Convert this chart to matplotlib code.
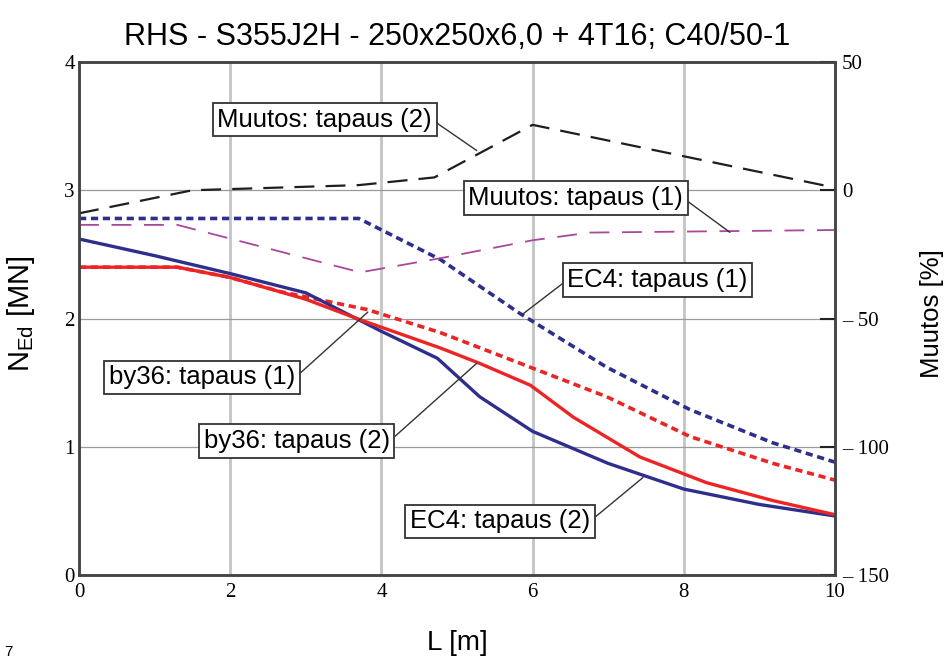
import numpy as np
import matplotlib
matplotlib.use("Agg")
import matplotlib.pyplot as plt

plt.rcParams['font.family'] = ['Liberation Sans', 'DejaVu Sans']
plt.rcParams['mathtext.default'] = 'regular'

title = "RHS - S355J2H - 250x250x6,0 + 4T16; C40/50-1"

# EC4: tapaus (2)  -- solid blue
L_ec4_2 = [0, 1, 2, 3, 4, 4.74, 5.3, 6, 7, 8, 9, 10]
N_ec4_2 = [2.62, 2.49, 2.35, 2.20, 1.90, 1.69, 1.39, 1.12, 0.87, 0.67, 0.55, 0.46]

# by36: tapaus (2)  -- solid red
L_by36_2 = [0, 1.3, 2, 3, 3.72, 4.78, 5.3, 5.97, 6.54, 7.42, 8.3, 9.18, 10]
N_by36_2 = [2.40, 2.40, 2.32, 2.15, 1.99, 1.77, 1.65, 1.48, 1.23, 0.92, 0.72, 0.58, 0.47]

# by36: tapaus (1)  -- dashed red
L_by36_1 = [0, 1.3, 2, 2.66, 3.81, 4.78, 5.97, 6.98, 8.08, 9.18, 10]
N_by36_1 = [2.40, 2.40, 2.32, 2.21, 2.07, 1.89, 1.62, 1.39, 1.08, 0.87, 0.74]

# EC4: tapaus (1)  -- dotted blue
L_ec4_1 = [0, 3.7, 4.78, 5.83, 6.98, 8.08, 9.18, 10]
N_ec4_1 = [2.78, 2.78, 2.46, 2.04, 1.62, 1.29, 1.03, 0.88]

# Muutos [%]
L_muu_1 = [0, 1.3, 3.72, 4.78, 6.0, 6.76, 10]
P_muu_1 = [-13.5, -13.5, -32, -26.5, -19.5, -16.5, -15.5]
L_muu_2 = [0, 1.5, 3.7, 4.7, 6, 10]
P_muu_2 = [-9, 0, 2, 5, 25.5, 1]

x_ticks = [0, 2, 4, 6, 8, 10]
y_ticks = [0, 1, 2, 3, 4]
p_ticks = [50, 0, -50, -100, -150]
p_labels = ['50', '0', '– 50', '– 100', '– 150']

blue = '#2e2f8c'
red = '#ec2424'
purple = '#a8489e'

fig = plt.figure(figsize=(9.47, 6.61), dpi=100)
ax = fig.add_axes([79/947, 1-575/661, 756/947, 513/661])
ax2 = ax.twinx()

ax.set_xlim(0, 10)
ax.set_ylim(0, 4)
ax2.set_ylim(-150, 50)

for xv in [2, 4, 6, 8]:
    ax.axvline(xv, color='#c4c4c4', lw=2.0, zorder=0)
for yv in [1, 2, 3]:
    ax.axhline(yv, color='#9a9a9a', lw=0.9, zorder=0)

ax.plot(L_ec4_1, N_ec4_1, color=blue, lw=2.6, ls=(0, (2.0, 1.3)))
ax.plot(L_by36_1, N_by36_1, color=red, lw=2.6, ls=(0, (2.0, 1.3)))
ax.plot(L_ec4_2, N_ec4_2, color=blue, lw=2.4)
ax.plot(L_by36_2, N_by36_2, color=red, lw=2.4)
ax2.plot(L_muu_1, P_muu_1, color=purple, lw=1.3, ls=(0, (11, 7)))
ax2.plot(L_muu_2, P_muu_2, color='#1e1e1e', lw=1.6, ls=(0, (9, 5)))

serif = 'Liberation Serif'
ax.set_xticks(x_ticks)
ax.set_xticklabels([str(v) for v in x_ticks], family=serif, fontsize=15)
ax.set_yticks(y_ticks)
ax.set_yticklabels([str(v) for v in y_ticks], family=serif, fontsize=15)
ax.tick_params(axis='both', length=0, pad=6)
ax.tick_params(axis='y', pad=3)
ax2.set_yticks(p_ticks)
ax2.set_yticklabels(p_labels, family=serif, fontsize=15)
ax2.tick_params(axis='y', direction='in', length=11, width=1.5, pad=5, color='#222')

for a in (ax, ax2):
    for s in a.spines.values():
        s.set_color('#444')
        s.set_linewidth(1.8)

ax.set_xlabel('L [m]', fontsize=20)
ax.xaxis.set_label_coords(0.5, -0.108)
ax.set_ylabel('N$_{Ed}$ [MN]', fontsize=21)
ax.yaxis.set_label_coords(-0.056, 0.51)
ax2.set_ylabel('Muutos [%]', fontsize=18.5)
ax2.yaxis.set_label_coords(1.113, 0.51)

ax.text(0.5, 1.049, title, transform=ax.transAxes, ha='center', va='center', fontsize=22)
fig.text(8/947, 1-652/661, '7', fontsize=11, ha='center', va='center')

box = dict(boxstyle='square,pad=0.18', fc='white', ec='#333', lw=1.3)
arrow = dict(arrowstyle='-', color='#333', lw=1.0, shrinkA=0, shrinkB=0)

def label(text, xy, xytext, rel, xycoords):
    a = dict(arrow)
    a['relpos'] = rel
    ax2.annotate(text, xy=xy, xycoords=xycoords, xytext=xytext, textcoords=ax.transData,
                 ha='center', va='center', fontsize=18.5, bbox=box, arrowprops=a, zorder=5)

label('Muutos: tapaus (2)', (5.26, 15.5), (3.25, 3.55), (1, 0.5), 'data')
label('Muutos: tapaus (1)', (8.61, -16.4), (6.57, 2.94), (1, 0.5), 'data')
label('EC4: tapaus (1)', (5.86, 2.03), (7.65, 2.30), (0, 0.5), ax.transData)
label('by36: tapaus (1)', (3.82, 2.05), (1.63, 1.54), (1, 0.5), ax.transData)
label('by36: tapaus (2)', (5.26, 1.65), (2.88, 1.045), (1, 0.5), ax.transData)
label('EC4: tapaus (2)', (7.46, 0.76), (5.57, 0.42), (1, 0.5), ax.transData)

fig.savefig('out.png', dpi=100)
